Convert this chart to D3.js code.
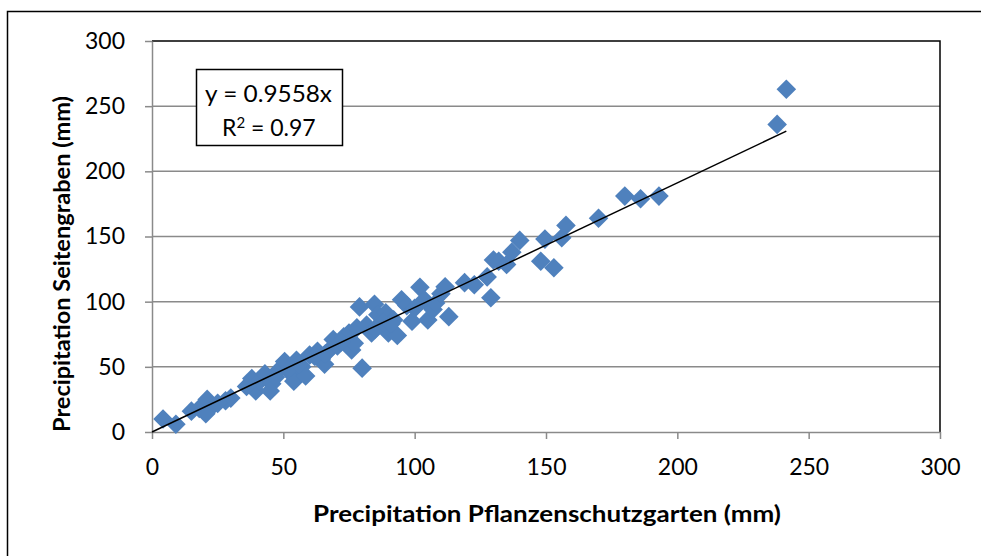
<!DOCTYPE html>
<html>
<head>
<meta charset="utf-8">
<script src="https://cdn.jsdelivr.net/npm/d3@7/dist/d3.min.js"></script>
<style>
  html, body { margin: 0; padding: 0; background: #fff; }
  svg { display: block; font-family: Lato, "Open Sans", sans-serif; }
</style>
</head>
<body>
<svg id="chart" width="981" height="556"></svg>
<script>
// Paired daily precipitation readings (mm)
const pflanzenschutzgarten = [
  4.2, 9.1, 15, 18, 21, 23, 20.5, 30, 28, 38, 39.5, 41, 43, 45.6, 45, 48, 50.5, 53, 55, 54,
  57, 58.5, 60, 63, 64.5, 65.7, 67.6, 69, 70.6, 73, 75, 76, 77, 78, 79, 80, 81.7, 83.6, 84.7, 86,
  87.7, 89, 90, 92, 93.4, 95, 97, 99, 102, 103.7, 105, 107, 108, 110, 111.6, 113, 119, 122.7, 127.6, 129,
  130, 132, 135, 137, 140, 148, 149.6, 153, 156, 157.6, 170, 180, 186, 193, 238, 241.5,
  47, 52, 56, 62, 66, 72, 85, 88, 91, 100, 36, 25
];
const seitengraben = [
  10, 6, 16, 18, 25, 20, 14, 26, 24, 41, 31.5, 39, 44.6, 37, 31.5, 47, 54, 44.6, 55, 39,
  50, 43, 59, 62, 56, 52, 63, 71, 66, 73, 76, 63, 68, 80, 96, 49, 82, 76, 98, 90,
  85, 91.5, 76, 86, 74, 101.5, 97, 85, 111, 101.5, 86, 94, 99, 106, 111.5, 88.5, 114.6, 113, 119, 103,
  132, 131, 128.5, 138, 147, 131, 148, 126, 149, 158.5, 164, 181, 179, 181, 236, 263,
  42, 48, 52, 58, 60, 69, 79, 84, 83, 95, 35, 22
];
const slope = 0.9558;
const rSquared = "0.97";
const xTicks = [0, 50, 100, 150, 200, 250, 300];
const yTicks = [0, 50, 100, 150, 200, 250, 300];
const xTitle = "Precipitation Pflanzenschutzgarten  (mm)";
const yTitle = "Precipitation Seitengraben (mm)";

const points = pflanzenschutzgarten.map((x, i) => ({ x, y: seitengraben[i] }));

const svg = d3.select("#chart");
const plot = { left: 152, top: 41, right: 940, bottom: 432 };

const x = d3.scaleLinear().domain([0, 300]).range([plot.left, plot.right]);
const y = d3.scaleLinear().domain([0, 300]).range([plot.bottom, plot.top]);

// Chart frame
svg.append("rect")
  .attr("x", 7.5).attr("y", 11.5).attr("width", 990).attr("height", 560)
  .attr("fill", "none").attr("stroke", "#000").attr("stroke-width", 1.5);

// Horizontal gridlines
svg.append("g").selectAll("line")
  .data(yTicks.filter(d => d > 0 && d < 300))
  .join("line")
  .attr("x1", plot.left).attr("x2", plot.right)
  .attr("y1", d => y(d)).attr("y2", d => y(d))
  .attr("stroke", "#8a8a8a").attr("stroke-width", 1.5);

// Plot area border (top and right)
svg.append("path")
  .attr("d", `M${plot.left},${plot.top}H${plot.right}V${plot.bottom}`)
  .attr("fill", "none").attr("stroke", "#000").attr("stroke-width", 1.5);

// Axes
const xAxis = d3.axisBottom(x).tickValues(xTicks).tickSize(7).tickSizeOuter(0).tickPadding(20);
const yAxis = d3.axisLeft(y).tickValues(yTicks).tickSize(7).tickSizeOuter(0).tickPadding(20);

const gx = svg.append("g").attr("transform", `translate(0,${plot.bottom})`).call(xAxis);
const gy = svg.append("g").attr("transform", `translate(${plot.left},0)`).call(yAxis);

[gx, gy].forEach(g => {
  g.select(".domain").attr("stroke", "#8a8a8a").attr("stroke-width", 1.5);
  g.selectAll(".tick line").attr("stroke", "#8a8a8a").attr("stroke-width", 1.5);
  g.selectAll(".tick text")
    .attr("fill", "#000")
    .style("font-family", "Lato, 'Open Sans', sans-serif")
    .style("font-size", "23px");
});

// Data markers
svg.append("g").selectAll("path")
  .data(points)
  .join("path")
  .attr("transform", d => `translate(${x(d.x)},${y(d.y)})`)
  .attr("d", d3.symbol(d3.symbolDiamond2, 245)())
  .attr("fill", "#4F81BD");

// Linear trend through the origin
const xMax = d3.max(pflanzenschutzgarten);
svg.append("line")
  .attr("x1", x(0)).attr("y1", y(0))
  .attr("x2", x(xMax)).attr("y2", y(slope * xMax))
  .attr("stroke", "#000").attr("stroke-width", 1.5);

// Trendline label
const lbl = svg.append("g");
lbl.append("rect")
  .attr("x", 196.5).attr("y", 69.5).attr("width", 146).attr("height", 76)
  .attr("fill", "#fff").attr("stroke", "#000").attr("stroke-width", 1.5);
lbl.append("text")
  .attr("x", 205).attr("y", 102)
  .attr("textLength", 127).attr("lengthAdjust", "spacingAndGlyphs")
  .style("font-size", "23px")
  .text(`y = ${slope}x`);
const r2 = lbl.append("text")
  .attr("x", 222).attr("y", 136)
  .style("font-size", "23px");
r2.append("tspan").text("R");
r2.append("tspan").attr("dy", -8).style("font-size", "15px").text("2");
r2.append("tspan").attr("dy", 8).text(` = ${rSquared}`);

// Axis titles
svg.append("text")
  .attr("x", 313).attr("y", 522)
  .attr("textLength", 468).attr("lengthAdjust", "spacingAndGlyphs")
  .style("font-size", "22px").style("font-weight", "bold")
  .text(xTitle);

svg.append("text")
  .attr("transform", `translate(70,432) rotate(-90)`)
  .attr("textLength", 336).attr("lengthAdjust", "spacingAndGlyphs")
  .style("font-size", "22px").style("font-weight", "bold")
  .text(yTitle);
</script>
</body>
</html>
